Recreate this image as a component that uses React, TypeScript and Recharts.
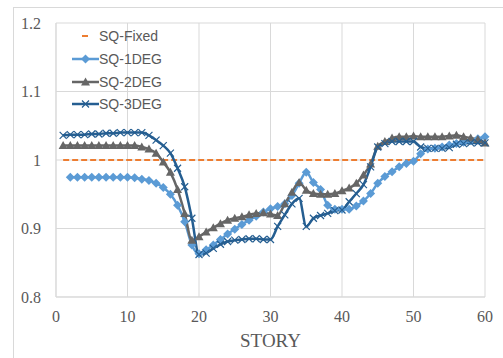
import { LineChart, Line, XAxis, YAxis, CartesianGrid, Legend } from "recharts";

// story numbers along the x axis
const stories = [
  1, 2, 3, 4, 5, 6, 7, 8, 9, 10, 11, 12, 13, 14, 15, 16, 17, 18, 19, 20,
  21, 22, 23, 24, 25, 26, 27, 28, 29, 30, 31, 32, 33, 34, 35, 36, 37, 38, 39, 40,
  41, 42, 43, 44, 45, 46, 47, 48, 49, 50, 51, 52, 53, 54, 55, 56, 57, 58, 59, 60,
];

const sqFixed = [
  1, 1, 1, 1, 1, 1, 1, 1, 1, 1, 1, 1, 1, 1, 1, 1, 1, 1, 1, 1,
  1, 1, 1, 1, 1, 1, 1, 1, 1, 1, 1, 1, 1, 1, 1, 1, 1, 1, 1, 1,
  1, 1, 1, 1, 1, 1, 1, 1, 1, 1, 1, 1, 1, 1, 1, 1, 1, 1, 1, 1,
];

const sq1Deg = [
  null, 0.975, 0.975, 0.975, 0.975, 0.975, 0.975, 0.975, 0.975, 0.975,
  0.974, 0.972, 0.97, 0.966, 0.96, 0.95, 0.934, 0.91, 0.876, 0.863,
  0.869, 0.876, 0.884, 0.892, 0.899, 0.906, 0.912, 0.918, 0.924, 0.929,
  0.932, 0.936, 0.948, 0.966, 0.982, 0.967, 0.957, 0.934, 0.928, 0.928,
  0.928, 0.933, 0.94, 0.951, 0.966, 0.976, 0.983, 0.99, 0.995, 0.998,
  1.009, 1.016, 1.017, 1.019, 1.022, 1.024, 1.026, 1.028, 1.031, 1.034,
];

const sq2Deg = [
  1.021, 1.021, 1.021, 1.021, 1.021, 1.021, 1.021, 1.021, 1.021, 1.021,
  1.021, 1.019, 1.016, 1.01, 0.997, 0.982, 0.957, 0.922, 0.883, 0.888,
  0.895, 0.901, 0.907, 0.912, 0.915, 0.917, 0.92, 0.922, 0.923, 0.921,
  0.919, 0.936, 0.953, 0.967, 0.956, 0.951, 0.95, 0.95, 0.951, 0.955,
  0.959, 0.966, 0.978, 0.994, 1.02, 1.027, 1.032, 1.034, 1.034, 1.035,
  1.034, 1.034, 1.034, 1.034, 1.035, 1.036, 1.034, 1.032, 1.03, 1.025,
];

const sq3Deg = [
  1.036, 1.037, 1.037, 1.037, 1.038, 1.038, 1.039, 1.039, 1.04, 1.04,
  1.04, 1.04, 1.036, 1.029, 1.021, 1.01, 0.988, 0.961, 0.915, 0.862,
  0.864, 0.871, 0.877, 0.881, 0.883, 0.884, 0.885, 0.885, 0.884, 0.884,
  0.903, 0.92, 0.936, 0.944, 0.903, 0.915, 0.919, 0.922, 0.926, 0.927,
  0.939, 0.951, 0.964, 0.99, 1.019, 1.024, 1.027, 1.027, 1.027, 1.027,
  1.019, 1.017, 1.017, 1.017, 1.018, 1.023, 1.024, 1.025, 1.025, 1.025,
];

const xTicks = [0, 10, 20, 30, 40, 50, 60];
const yTicks = [0.8, 0.9, 1, 1.1, 1.2];

const data = stories.map((s, i) => ({
  story: s,
  fixed: sqFixed[i],
  deg1: sq1Deg[i],
  deg2: sq2Deg[i],
  deg3: sq3Deg[i],
}));

const ORANGE = "#ED7D31";
const BLUE = "#5B9BD5";
const GRAY = "#666666";
const NAVY = "#255E91";

const diamond = (cx: number, cy: number, r = 4.5) =>
  `M${cx},${cy - r}L${cx + r},${cy}L${cx},${cy + r}L${cx - r},${cy}Z`;
const triangle = (cx: number, cy: number) =>
  `M${cx},${cy - 4.5}L${cx + 4.5},${cy + 3.5}L${cx - 4.5},${cy + 3.5}Z`;

const DiamondDot = (props: any) => {
  const { cx, cy, index } = props;
  if (cx == null || cy == null || props.value == null) return <g key={index} />;
  return <path key={index} d={diamond(cx, cy)} fill={BLUE} />;
};

const TriangleDot = (props: any) => {
  const { cx, cy, index } = props;
  if (cx == null || cy == null) return <g key={index} />;
  return <path key={index} d={triangle(cx, cy)} fill={GRAY} />;
};

const CrossDot = (props: any) => {
  const { cx, cy, index } = props;
  if (cx == null || cy == null) return <g key={index} />;
  const r = 3.5;
  return (
    <path
      key={index}
      d={`M${cx - r},${cy - r}L${cx + r},${cy + r}M${cx - r},${cy + r}L${cx + r},${cy - r}`}
      stroke={NAVY}
      strokeWidth={1.2}
      fill="none"
    />
  );
};

const legendRows = [
  { name: "SQ-Fixed", kind: "fixed" },
  { name: "SQ-1DEG", kind: "deg1" },
  { name: "SQ-2DEG", kind: "deg2" },
  { name: "SQ-3DEG", kind: "deg3" },
];

const Swatch = ({ kind }: { kind: string }) => {
  if (kind === "fixed") {
    return (
      <svg width={27} height={12}>
        <line x1={10} y1={6} x2={16} y2={6} stroke={ORANGE} strokeWidth={2} />
      </svg>
    );
  }
  const color = kind === "deg1" ? BLUE : kind === "deg2" ? GRAY : NAVY;
  return (
    <svg width={27} height={12}>
      <line x1={0} y1={6} x2={27} y2={6} stroke={color} strokeWidth={2.5} />
      {kind === "deg1" && <path d={diamond(13.5, 6)} fill={BLUE} />}
      {kind === "deg2" && <path d={triangle(13.5, 6)} fill={GRAY} />}
      {kind === "deg3" && (
        <path d="M10,2.5L17,9.5M10,9.5L17,2.5" stroke={NAVY} strokeWidth={1.2} />
      )}
    </svg>
  );
};

const renderLegend = () => (
  <div style={{ fontFamily: "'Liberation Sans', sans-serif", fontSize: 14, color: "#595959" }}>
    {legendRows.map((r) => (
      <div key={r.name} style={{ display: "flex", alignItems: "center", height: 22.7 }}>
        <Swatch kind={r.kind} />
        <span>{r.name}</span>
      </div>
    ))}
  </div>
);

const tickStyle = { fill: "#595959", fontFamily: "'Liberation Serif', serif", fontSize: 16 };

const App = () => {
  return (
    <div style={{ position: "fixed", left: 0, top: 0, width: 503, height: 358, background: "#fff" }}>
      <div
        style={{
          position: "absolute",
          left: 13,
          top: 7,
          width: 500,
          height: 360,
          borderLeft: "1px solid #d9d9d9",
          borderTop: "1px solid #d9d9d9",
        }}
      />
      <LineChart
        width={503}
        height={358}
        data={data}
        margin={{ top: 23, right: 18, left: 16, bottom: 31 }}
      >
        <CartesianGrid stroke="#d9d9d9" strokeWidth={1} />
        <XAxis
          dataKey="story"
          type="number"
          domain={[0, 60]}
          ticks={xTicks}
          height={30}
          tickLine={false}
          axisLine={{ stroke: "#d9d9d9" }}
          tick={tickStyle}
          tickMargin={8}
          label={{
            value: "STORY",
            position: "bottom",
            offset: 7,
            style: { fill: "#595959", fontFamily: "'Liberation Serif', serif", fontSize: 19 },
          }}
        />
        <YAxis
          type="number"
          domain={[0.8, 1.2]}
          ticks={yTicks}
          width={40}
          tickLine={false}
          axisLine={{ stroke: "#d9d9d9" }}
          tick={tickStyle}
          tickMargin={9}
          tickFormatter={(v: number) => (v === 1 ? "1" : v.toFixed(1))}
        />
        <Legend
          layout="vertical"
          align="center"
          verticalAlign="middle"
          content={renderLegend}
          wrapperStyle={{ left: 72, top: 25, width: 130 }}
        />
        <Line
          dataKey="fixed"
          name="SQ-Fixed"
          stroke={ORANGE}
          strokeWidth={2}
          strokeDasharray="6 3"
          dot={false}
          isAnimationActive={false}
        />
        <Line
          dataKey="deg1"
          name="SQ-1DEG"
          type="monotone"
          stroke={BLUE}
          strokeWidth={2.5}
          dot={DiamondDot}
          connectNulls
          isAnimationActive={false}
        />
        <Line
          dataKey="deg2"
          name="SQ-2DEG"
          type="monotone"
          stroke={GRAY}
          strokeWidth={2.5}
          dot={TriangleDot}
          isAnimationActive={false}
        />
        <Line
          dataKey="deg3"
          name="SQ-3DEG"
          type="monotone"
          stroke={NAVY}
          strokeWidth={2.5}
          dot={CrossDot}
          isAnimationActive={false}
        />
      </LineChart>
    </div>
  );
};

export default App;
